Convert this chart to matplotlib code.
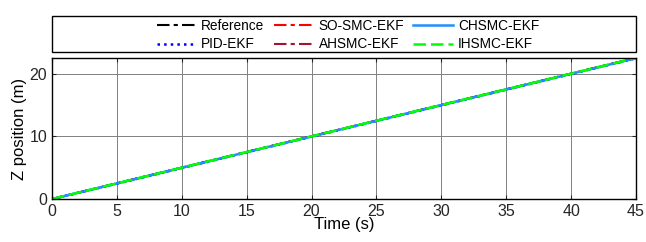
import matplotlib
matplotlib.use("Agg")
import matplotlib.pyplot as plt
from matplotlib.patches import Rectangle

# data (z grows linearly with time)
t = [0, 5, 10, 15, 20, 25, 30, 35, 40, 45]
z_ref = [0, 2.5, 5, 7.5, 10, 12.5, 15, 17.5, 20, 22.5]
z_pid = [0, 2.45, 4.95, 7.45, 9.95, 12.45, 14.95, 17.45, 19.95, 22.45]
z_so = [0, 2.5, 5, 7.5, 10, 12.5, 15, 17.5, 20, 22.5]
z_ah = [0, 2.5, 5, 7.5, 10, 12.5, 15, 17.5, 20, 22.5]
z_ch = [0, 2.48, 4.98, 7.48, 9.98, 12.48, 14.98, 17.48, 19.98, 22.48]
z_ih = [0, 2.5, 5, 7.5, 10, 12.5, 15, 17.5, 20, 22.5]

plt.rcParams['font.family'] = ['Liberation Sans', 'DejaVu Sans']

fig = plt.figure(figsize=(6.46, 2.42), dpi=100)
ax = fig.add_axes([52 / 646, 1 - 199 / 242, 584 / 646, 141 / 242])

l1, = ax.plot(t, z_ref, color='black', ls=(0, (6, 2, 2, 2)), lw=1.5, label='Reference')
l2, = ax.plot(t, z_pid, color='blue', ls=':', lw=1.8, label='PID-EKF')
l3, = ax.plot(t, z_so, color='red', ls=(0, (6, 2, 2, 2)), lw=1.5, label='SO-SMC-EKF')
l4, = ax.plot(t, z_ah, color='#A2142F', ls=(0, (6, 2, 2, 2)), lw=1.5, label='AHSMC-EKF')
l5, = ax.plot(t, z_ch, color='#1E90FF', ls='-', lw=1.8, label='CHSMC-EKF')
l6, = ax.plot(t, z_ih, color='#00FF00', ls=(0, (5, 2)), lw=1.8, label='IHSMC-EKF')

ax.set_xlim(0, 45)
ax.set_ylim(0, 22.5)
ax.set_xticks(range(0, 46, 5))
ax.set_yticks([0, 10, 20])
ax.grid(True, color='#808080', lw=0.7)
ax.tick_params(labelsize=11.5, direction='in', length=3, colors='#262626',
               top=True, right=True)
for s in ax.spines.values():
    s.set_linewidth(1.0)
ax.set_xlabel('Time (s)', fontsize=12, labelpad=-1)
ax.set_ylabel('Z position (m)', fontsize=12, labelpad=2)

# legend box spans the whole axes width
fig.patches.append(Rectangle((52 / 646, 1 - 52 / 242), 584 / 646, 36 / 242,
                             transform=fig.transFigure, fill=False,
                             edgecolor='black', lw=1.0))
leg = fig.legend(handles=[l1, l2, l3, l4, l5, l6], ncol=3, loc='center',
                 bbox_to_anchor=(56 / 646, 1 - 53 / 242, 584 / 646, 36 / 242),
                 fontsize=9.8, frameon=False, handlelength=2.9, columnspacing=0.68,
                 handletextpad=0.38, labelspacing=0.35, borderpad=0.2)

fig.savefig('out.png', dpi=100)
